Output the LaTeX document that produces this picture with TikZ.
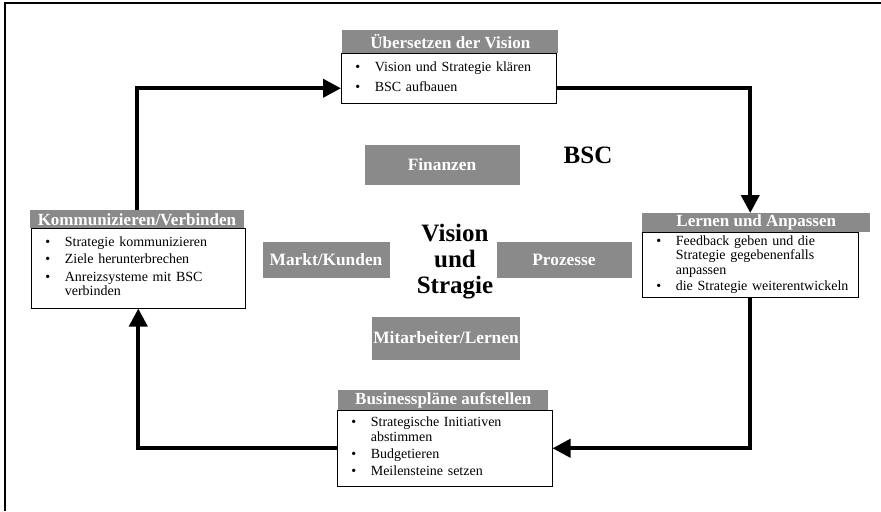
\documentclass[tikz,border=0pt]{standalone}
\usepackage{fontspec}
\setmainfont{Liberation Serif}
\usetikzlibrary{arrows.meta,positioning}
\definecolor{kastengrau}{RGB}{138,138,138}
\newcommand{\liste}[1]{\begin{tabular}{@{\hspace{10.5pt}}l@{\hspace{11pt}}p{132pt}@{}}#1\end{tabular}}

\begin{document}
\begin{tikzpicture}[x=0.75pt,y=-0.75pt,
  kopf/.style={fill=kastengrau, text=white, anchor=north west, inner sep=0pt,
    font=\fontsize{12.75}{14}\selectfont\bfseries},
  inhalt/.style={draw, thin, fill=white, anchor=north west, inner xsep=0pt, inner ysep=0pt,
    align=left, font=\fontsize{10.5}{11}\selectfont},
  feld/.style={fill=kastengrau, text=white, inner sep=0pt,
    font=\fontsize{13}{14}\selectfont\bfseries},
  pfeil/.style={line width=3pt, -{Triangle[length=13.5pt,width=13.5pt]}}]

\useasboundingbox (0,0) rectangle (881,511);
\draw[line width=1.5pt] (5,511) -- (5,3) -- (881,3);

% die vier Schritte
\node[kopf, minimum width=162pt, minimum height=17.25pt] (ue) at (342,30) {Übersetzen der Vision};
\node[inhalt, text width=161.25pt, minimum height=37.5pt] (ue-t) at (341,53)
  {\liste{\textbullet & Vision und Strategie klären\\[4pt] \textbullet & BSC aufbauen}};

\node[kopf, minimum width=160pt, minimum height=13.5pt] (kv) at (30,210) {Kommunizieren/Verbinden};
\node[inhalt, text width=160.5pt, minimum height=60pt] (kv-t) at (31,228)
  {\liste{\textbullet & Strategie kommunizieren\\[2pt] \textbullet & Ziele herunterbrechen\\[2pt]
   \textbullet & Anreizsysteme mit BSC verbinden}};

\node[kopf, minimum width=171pt, minimum height=14.25pt] (la) at (642,213) {Lernen und Anpassen};
\node[inhalt, text width=162pt, minimum height=48.75pt] (la-t) at (642,232)
  {\liste{\textbullet & Feedback geben und die Strategie gegebenenfalls anpassen\\[1pt]
   \textbullet & die Strategie weiterentwickeln}};

\node[kopf, minimum width=157.5pt, minimum height=15pt] (bp) at (338,390) {Businesspläne aufstellen};
\node[inhalt, text width=161.25pt, minimum height=57pt] (bp-t) at (337,410)
  {\liste{\textbullet & Strategische Initiativen abstimmen\\[2pt] \textbullet & Budgetieren\\[2pt]
   \textbullet & Meilensteine setzen}};

% Mitte
\node[feld, minimum width=116.25pt, minimum height=30pt] (fin) at (442,165) {Finanzen};
\node[feld, minimum width=95.25pt, minimum height=27pt] (mk) at (326,260) {Markt/Kunden};
\node[feld, minimum width=101.25pt, minimum height=27pt] (pr) at (564,260) {Prozesse};
\node[feld, minimum width=111pt, minimum height=32.25pt] (ml) at (446,338) {Mitarbeiter/Lernen};
\node[font=\fontsize{18.75}{19}\selectfont\bfseries] (bsc) at (588,155) {BSC};
\node[align=center, inner sep=0pt, font=\fontsize{18.75}{19.5}\selectfont\bfseries] (vs) at (455,262)
  {Vision\\und\\Stragie};

% Kreislauf
\draw[pfeil] (kv.north) |- ([yshift=-7.5pt]ue-t.west);
\draw[pfeil] ([yshift=-7.5pt]ue-t.east) -| (la-t.north |- la.north);
\draw[pfeil] (la-t.south) |- (bp-t.east);
\draw[pfeil] (bp-t.west) -| (kv-t.south);

\end{tikzpicture}
\end{document}
